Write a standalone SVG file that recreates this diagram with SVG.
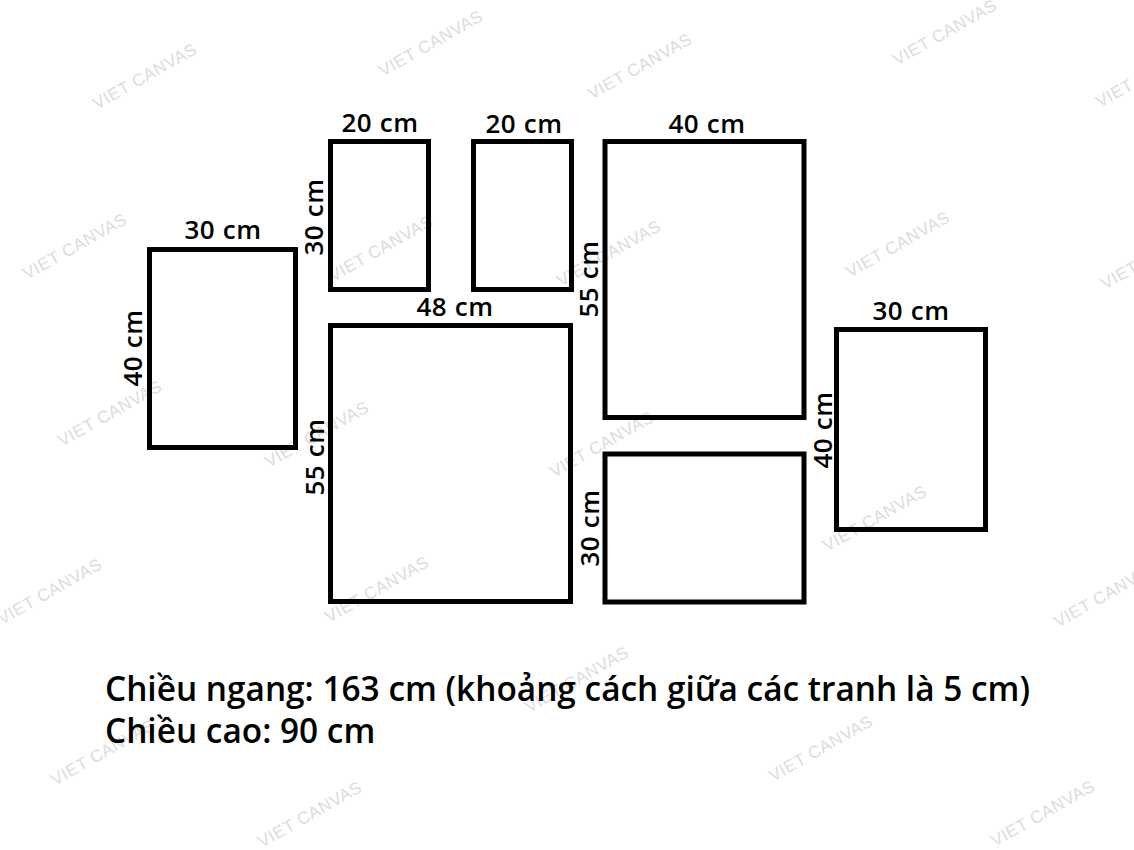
<svg xmlns="http://www.w3.org/2000/svg" width="1134" height="850" viewBox="0 0 1134 850">
<style>
.frame{fill:none;stroke:#000;stroke-width:5}
.lbl{font-family:"Open Sans","Liberation Sans",sans-serif;font-weight:600;font-size:26px;fill:#000;text-anchor:middle;letter-spacing:0.6px}
.info{font-family:"Open Sans","Liberation Sans",sans-serif;font-weight:600;font-size:33.4px;fill:#000}
.wm{font-family:"Liberation Sans",Arial,sans-serif;font-size:17px;fill:#dcdcdc;letter-spacing:0.5px}
</style>
<rect width="1134" height="850" fill="#fff"/>
<g id="watermarks">
<text class="wm" transform="translate(97,110) rotate(-29.5)">VIET CANVAS</text>
<text class="wm" transform="translate(383,77) rotate(-29.5)">VIET CANVAS</text>
<text class="wm" transform="translate(592,100) rotate(-29.5)">VIET CANVAS</text>
<text class="wm" transform="translate(897,66) rotate(-29.5)">VIET CANVAS</text>
<text class="wm" transform="translate(1100,108) rotate(-29.5)">VIET CANVAS</text>
<text class="wm" transform="translate(27,280) rotate(-29.5)">VIET CANVAS</text>
<text class="wm" transform="translate(333,282) rotate(-29.5)">VIET CANVAS</text>
<text class="wm" transform="translate(561,287) rotate(-29.5)">VIET CANVAS</text>
<text class="wm" transform="translate(850,278) rotate(-29.5)">VIET CANVAS</text>
<text class="wm" transform="translate(1105,290) rotate(-29.5)">VIET CANVAS</text>
<text class="wm" transform="translate(62,447) rotate(-29.5)">VIET CANVAS</text>
<text class="wm" transform="translate(269,468) rotate(-29.5)">VIET CANVAS</text>
<text class="wm" transform="translate(554,478) rotate(-29.5)">VIET CANVAS</text>
<text class="wm" transform="translate(827,552) rotate(-29.5)">VIET CANVAS</text>
<text class="wm" transform="translate(2,625) rotate(-29.5)">VIET CANVAS</text>
<text class="wm" transform="translate(329,623) rotate(-29.5)">VIET CANVAS</text>
<text class="wm" transform="translate(529,713) rotate(-29.5)">VIET CANVAS</text>
<text class="wm" transform="translate(1058,628) rotate(-29.5)">VIET CANVAS</text>
<text class="wm" transform="translate(55,786) rotate(-29.5)">VIET CANVAS</text>
<text class="wm" transform="translate(773,782) rotate(-29.5)">VIET CANVAS</text>
<text class="wm" transform="translate(262,848) rotate(-29.5)">VIET CANVAS</text>
<text class="wm" transform="translate(995,847) rotate(-29.5)">VIET CANVAS</text>
</g>
<g id="frame-a">
<rect class="frame" x="149.5" y="249.5" width="146" height="198"/>
<text class="lbl" x="223" y="239">30 cm</text>
<text class="lbl" transform="translate(142,348) rotate(-90)">40 cm</text>
</g>
<g id="frame-b">
<rect class="frame" x="330.5" y="141.5" width="98" height="148"/>
<text class="lbl" x="380" y="132">20 cm</text>
<text class="lbl" transform="translate(323,217) rotate(-90)">30 cm</text>
</g>
<g id="frame-c">
<rect class="frame" x="473.5" y="141.5" width="98" height="148"/>
<text class="lbl" x="524" y="133">20 cm</text>
</g>
<g id="frame-d">
<rect class="frame" x="605" y="141.5" width="199" height="276"/>
<text class="lbl" x="707" y="133">40 cm</text>
<text class="lbl" transform="translate(598,279) rotate(-90)">55 cm</text>
</g>
<g id="frame-e">
<rect class="frame" x="330.5" y="325.5" width="240" height="276"/>
<text class="lbl" x="455" y="316">48 cm</text>
<text class="lbl" transform="translate(324,457) rotate(-90)">55 cm</text>
</g>
<g id="frame-f">
<rect class="frame" x="605" y="454" width="199" height="148"/>
<text class="lbl" transform="translate(599,528) rotate(-90)">30 cm</text>
</g>
<g id="frame-g">
<rect class="frame" x="836.5" y="329.5" width="149" height="200"/>
<text class="lbl" x="911" y="320">30 cm</text>
<text class="lbl" transform="translate(832,430) rotate(-90)">40 cm</text>
</g>
<g id="connectors"></g>
<g id="info">
<text class="info" x="105" y="701">Chiều ngang: 163 cm (khoảng cách giữa các tranh là 5 cm)</text>
<text class="info" x="105" y="743">Chiều cao: 90 cm</text>
</g>
</svg>
